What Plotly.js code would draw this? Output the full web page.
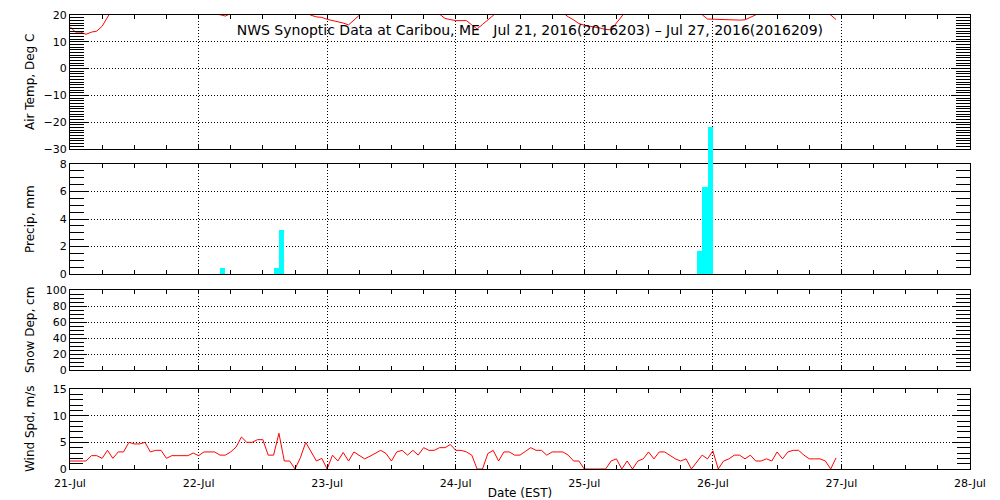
<!DOCTYPE html>
<html>
<head>
<meta charset="utf-8">
<script src="https://cdn.plot.ly/plotly-3.0.1.min.js"></script>
<style>
  html, body { margin: 0; padding: 0; background: #fff; }
  #chart { width: 1000px; height: 500px; }
</style>
</head>
<body>
<div id="chart"></div>
<script>
// ---------------- DATA ----------------
const xTickLabels = ['21-Jul', '22-Jul', '23-Jul', '24-Jul', '25-Jul', '26-Jul', '27-Jul', '28-Jul'];

// Hourly air temperature, deg C (Jul 21 00:00 .. Jul 26 23:00 EST)
const airTemp = [
  15.7, 13.6, 13.6, 12.8, 13.6, 14.0, 15.8, 19.5, 22.5, 23.5, 25, 26, 27, 27.5, 28, 28, 27.5, 26.5, 25, 23.5, 22.5, 21.5, 21, 20.8,
  20.6, 20.4, 20.3, 20.3, 20.1, 19.6, 20.5, 21.5, 23, 24.5, 26, 27, 27.5, 28, 28, 27.5, 26.5, 25, 23.5, 22, 21, 19.9, 19.3, 19.1,
  18.4, 18.0, 17.6, 17.0, 16.3, 18.2, 20.2, 22, 23.5, 25, 26, 27, 27.5, 28, 28, 27.5, 26.5, 25, 23.5, 22, 21, 20.3, 18.7, 18.3,
  17.9, 17.9, 17.9, 16.3, 14.8, 16.5, 18.3, 19.9, 21.5, 23, 24.5, 25.5, 26.5, 27, 27.5, 27.5, 27, 26, 24.5, 22.5, 20.8, 19.3, 18.2, 16.8,
  16.2, 15.9, 15.5, 15.1, 14.6, 14.5, 17.0, 19.7, 22, 24, 25.5, 26.5, 27, 27.5, 27.5, 27, 26, 25, 24, 23, 22, 21, 20.1, 18.5,
  18.4, 18.3, 18.3, 18.2, 18.1, 18.1, 18.2, 19.1, 20.05, 22, 23.5, 25, 26, 27, 27.5, 27.5, 27, 26, 25, 23.5, 22, 21, 20.0, 18.3
];

// Hourly wind speed, m/s
const windSpd = [
  1.5, 1.5, 1.5, 1.5, 2.5, 2.5, 2.0, 3.5, 2.0, 3.2, 3.2, 5.0, 4.7, 4.7, 5.0, 3.2, 3.5, 3.5, 2.0, 2.5, 2.5, 2.5, 2.5, 3.0,
  2.5, 3.2, 3.2, 3.2, 2.6, 2.6, 3.2, 4.1, 6.0, 5.0, 5.0, 5.5, 5.5, 2.6, 2.6, 6.7, 1.5, 1.5, 0, 2.1, 5.0, 3.2, 1.5, 2.0,
  0, 2.6, 1.5, 3.1, 1.5, 3.2, 2.5, 1.9, 2.4, 3.0, 3.5, 2.9, 1.5, 3.2, 3.5, 2.6, 3.5, 2.6, 4.0, 3.5, 3.5, 4.0, 4.0, 4.6,
  3.5, 3.5, 3.2, 2.6, 0, 0, 2.9, 3.5, 1.5, 3.2, 3.2, 2.6, 2.6, 3.3, 4.0, 3.5, 3.5, 2.6, 3.2, 3.2, 3.2, 2.6, 1.5, 1.5,
  0, 0, 0, 0, 0, 1.5, 1.9, 0, 1.5, 0, 1.5, 1.9, 3.2, 1.9, 3.2, 3.2, 2.6, 1.9, 1.5, 1.9, 0, 1.3, 2.6, 1.9,
  3.4, 0, 1.5, 1.9, 2.6, 2.6, 1.9, 2.6, 1.5, 1.5, 1.9, 1.5, 3.2, 1.9, 3.2, 3.5, 3.5, 2.6, 1.9, 1.9, 1.9, 1.5, 0, 2.1
];

// Hourly precipitation (bars start at the hour), mm
const precipTimes = ['2016-07-22 04:00', '2016-07-22 14:00', '2016-07-22 15:00', '2016-07-25 21:00', '2016-07-25 22:00', '2016-07-25 23:00'];
const precipValues = [0.45, 0.45, 3.2, 1.7, 6.3, 10.7];

// Snow depth, cm (no observations)
const snowTimes = [];
const snowDepth = [];

// Axis major tick values
const tempTicks = [-30, -20, -10, 0, 10, 20];
const precipTicks = [0, 2, 4, 6, 8];
const snowTicks = [0, 20, 40, 60, 80, 100];
const windTicks = [0, 5, 10, 15];

// ---------------- BUILD ----------------
function hourStamp(i) {
  const d = new Date(Date.UTC(2016, 6, 21, i));
  const p = n => String(n).padStart(2, '0');
  return d.getUTCFullYear() + '-' + p(d.getUTCMonth() + 1) + '-' + p(d.getUTCDate()) + ' ' + p(d.getUTCHours()) + ':00';
}
const hourlyTimes = airTemp.map((_, i) => hourStamp(i));
const tickVals = xTickLabels.map((_, i) => hourStamp(i * 24));
const xRange = [tickVals[0], tickVals[tickVals.length - 1]];

const FONT = 'DejaVu Sans, sans-serif';
const tickFont = { family: FONT, size: 11, color: '#000' };

// plot area: x 70..970, y 15..469 (height 454)
const H = 454, T = 15;
function dom(top, bottom) { return [(T + H - bottom) / H, (T + H - top) / H]; }
const pTemp = [15, 149], pPrec = [164, 274], pSnow = [290, 370], pWind = [389, 469];
const dTemp = dom(...pTemp), dPrec = dom(...pPrec), dSnow = dom(...pSnow), dWind = dom(...pWind);

// precip bar subplot spans precip panel + temp panel so the tall bar is not clipped
const pBar = [pTemp[0], pPrec[1]];
const dBar = dom(...pBar);
const precipMax = precipTicks[precipTicks.length - 1];
const barRange = [0, precipMax * (pBar[1] - pBar[0]) / (pPrec[1] - pPrec[0])];

function xAxis(anchor, showLabels) {
  return {
    type: 'date', anchor: anchor, range: xRange.slice(), autorange: false,
    tickmode: 'array', tickvals: tickVals, ticktext: xTickLabels,
    showticklabels: showLabels, tickfont: tickFont,
    ticks: 'inside', ticklen: 4, tickcolor: '#000',
    minor: { dtick: 6 * 3600000, tick0: tickVals[0], ticks: 'inside', ticklen: 4, tickcolor: '#000', showgrid: false },
    showline: true, linecolor: '#000', linewidth: 1, mirror: 'allticks',
    showgrid: true, gridcolor: '#000', gridwidth: 1, griddash: '1px,2px',
    zeroline: false, fixedrange: true
  };
}
function yAxis(anchor, domain, ticks, minorDtick, majLen, minLen) {
  const range = [ticks[0], ticks[ticks.length - 1]];
  return {
    type: 'linear', anchor: anchor, domain: domain, range: range, autorange: false,
    tickmode: 'linear', tick0: ticks[0], dtick: ticks[1] - ticks[0],
    tickfont: tickFont, ticks: 'inside', ticklen: majLen, tickcolor: '#000',
    minor: { dtick: minorDtick, tick0: range[0], ticks: 'inside', ticklen: minLen, tickcolor: '#000', showgrid: false },
    showline: true, linecolor: '#000', linewidth: 1, mirror: 'allticks',
    showgrid: true, gridcolor: '#000', gridwidth: 1, griddash: '1px,2px',
    zeroline: false, fixedrange: true
  };
}

function build(tallBarSubplot) {
  const traces = [
    { type: 'scatter', mode: 'lines', x: hourlyTimes, y: airTemp, xaxis: 'x', yaxis: 'y',
      line: { color: '#ff0000', width: 1 }, name: 'Air Temp', hoverinfo: 'skip' },
    { type: 'scatter', mode: 'lines', x: [], y: [], xaxis: 'x2', yaxis: 'y2', name: 'precip-frame' },
    { type: 'scatter', mode: 'lines', x: snowTimes, y: snowDepth, xaxis: 'x3', yaxis: 'y3',
      line: { color: '#ff0000', width: 1 }, name: 'Snow Dep' },
    { type: 'scatter', mode: 'lines', x: hourlyTimes, y: windSpd, xaxis: 'x4', yaxis: 'y4',
      line: { color: '#ff0000', width: 1 }, name: 'Wind Spd', hoverinfo: 'skip' },
    { type: 'bar', x: precipTimes, y: precipValues,
      xaxis: tallBarSubplot ? 'x5' : 'x2', yaxis: tallBarSubplot ? 'y5' : 'y2',
      marker: { color: '#00ffff', line: { width: 0 } }, width: 3600000, offset: 0,
      cliponaxis: false, name: 'Precip' }
  ];

  const x4 = xAxis('y4', true);
  x4.title = { text: 'Date (EST)', font: { family: FONT, size: 12, color: '#000' }, standoff: 2 };
  x4.ticklabelstandoff = 4;

  const layout = {
    width: 1000, height: 500,
    margin: { l: 70, r: 30, t: T, b: 500 - T - H },
    paper_bgcolor: '#fff', plot_bgcolor: 'rgba(0,0,0,0)',
    showlegend: false, bargap: 0,
    font: { family: FONT, size: 11, color: '#000' },
    title: { text: 'NWS Synoptic Data at Caribou, ME\u00a0\u00a0\u00a0Jul 21, 2016(2016203) \u2013 Jul 27, 2016(2016209)',
             font: { family: FONT, size: 14, color: '#000' },
             xref: 'paper', yref: 'container', x: 0.511, y: 1 - 30 / 500, xanchor: 'center', yanchor: 'middle' },
    xaxis: xAxis('y', false),
    xaxis2: xAxis('y2', false),
    xaxis3: xAxis('y3', false),
    xaxis4: x4,
    yaxis: yAxis('x', dTemp, tempTicks, 1, 19, 14),
    yaxis2: yAxis('x2', dPrec, precipTicks, 0.5, 19, 14),
    yaxis3: yAxis('x3', dSnow, snowTicks, 5, 17, 14),
    yaxis4: yAxis('x4', dWind, windTicks, 1, 18, 13),
    annotations: [
      ['Air Temp, Deg C', dTemp], ['Precip, mm', dPrec], ['Snow Dep, cm', dSnow], ['Wind Spd, m/s', dWind]
    ].map(([t, d]) => ({
      text: t, xref: 'paper', yref: 'paper', x: -40 / 900, y: (d[0] + d[1]) / 2,
      xanchor: 'center', yanchor: 'middle', textangle: -90, showarrow: false,
      font: { family: FONT, size: 12, color: '#000' }
    }))
  };
  if (tallBarSubplot) {
    layout.xaxis5 = { type: 'date', anchor: 'y5', range: xRange.slice(), autorange: false, visible: false, showgrid: false, zeroline: false, fixedrange: true };
    layout.yaxis5 = { type: 'linear', anchor: 'x5', domain: dBar, range: barRange, autorange: false, visible: false, showgrid: false, zeroline: false, fixedrange: true };
  }
  return { traces, layout };
}

const gd = document.getElementById('chart');
const cfg = { staticPlot: true, displayModeBar: false };
const first = build(true);
Plotly.newPlot(gd, first.traces, first.layout, cfg).then(() => {
  // verify the snow-depth labels are visibly inside the snow panel; otherwise use the simpler layout
  const ok = Array.from(gd.querySelectorAll('text')).some(t => {
    if (t.textContent.trim() !== '60') return false;
    const r = t.getBoundingClientRect();
    return r.width > 0 && r.top > pSnow[0] - 5 && r.bottom < pSnow[1] + 5;
  });
  if (!ok) {
    const alt = build(false);
    Plotly.purge(gd);
    Plotly.newPlot(gd, alt.traces, alt.layout, cfg);
  }
});
</script>
</body>
</html>
